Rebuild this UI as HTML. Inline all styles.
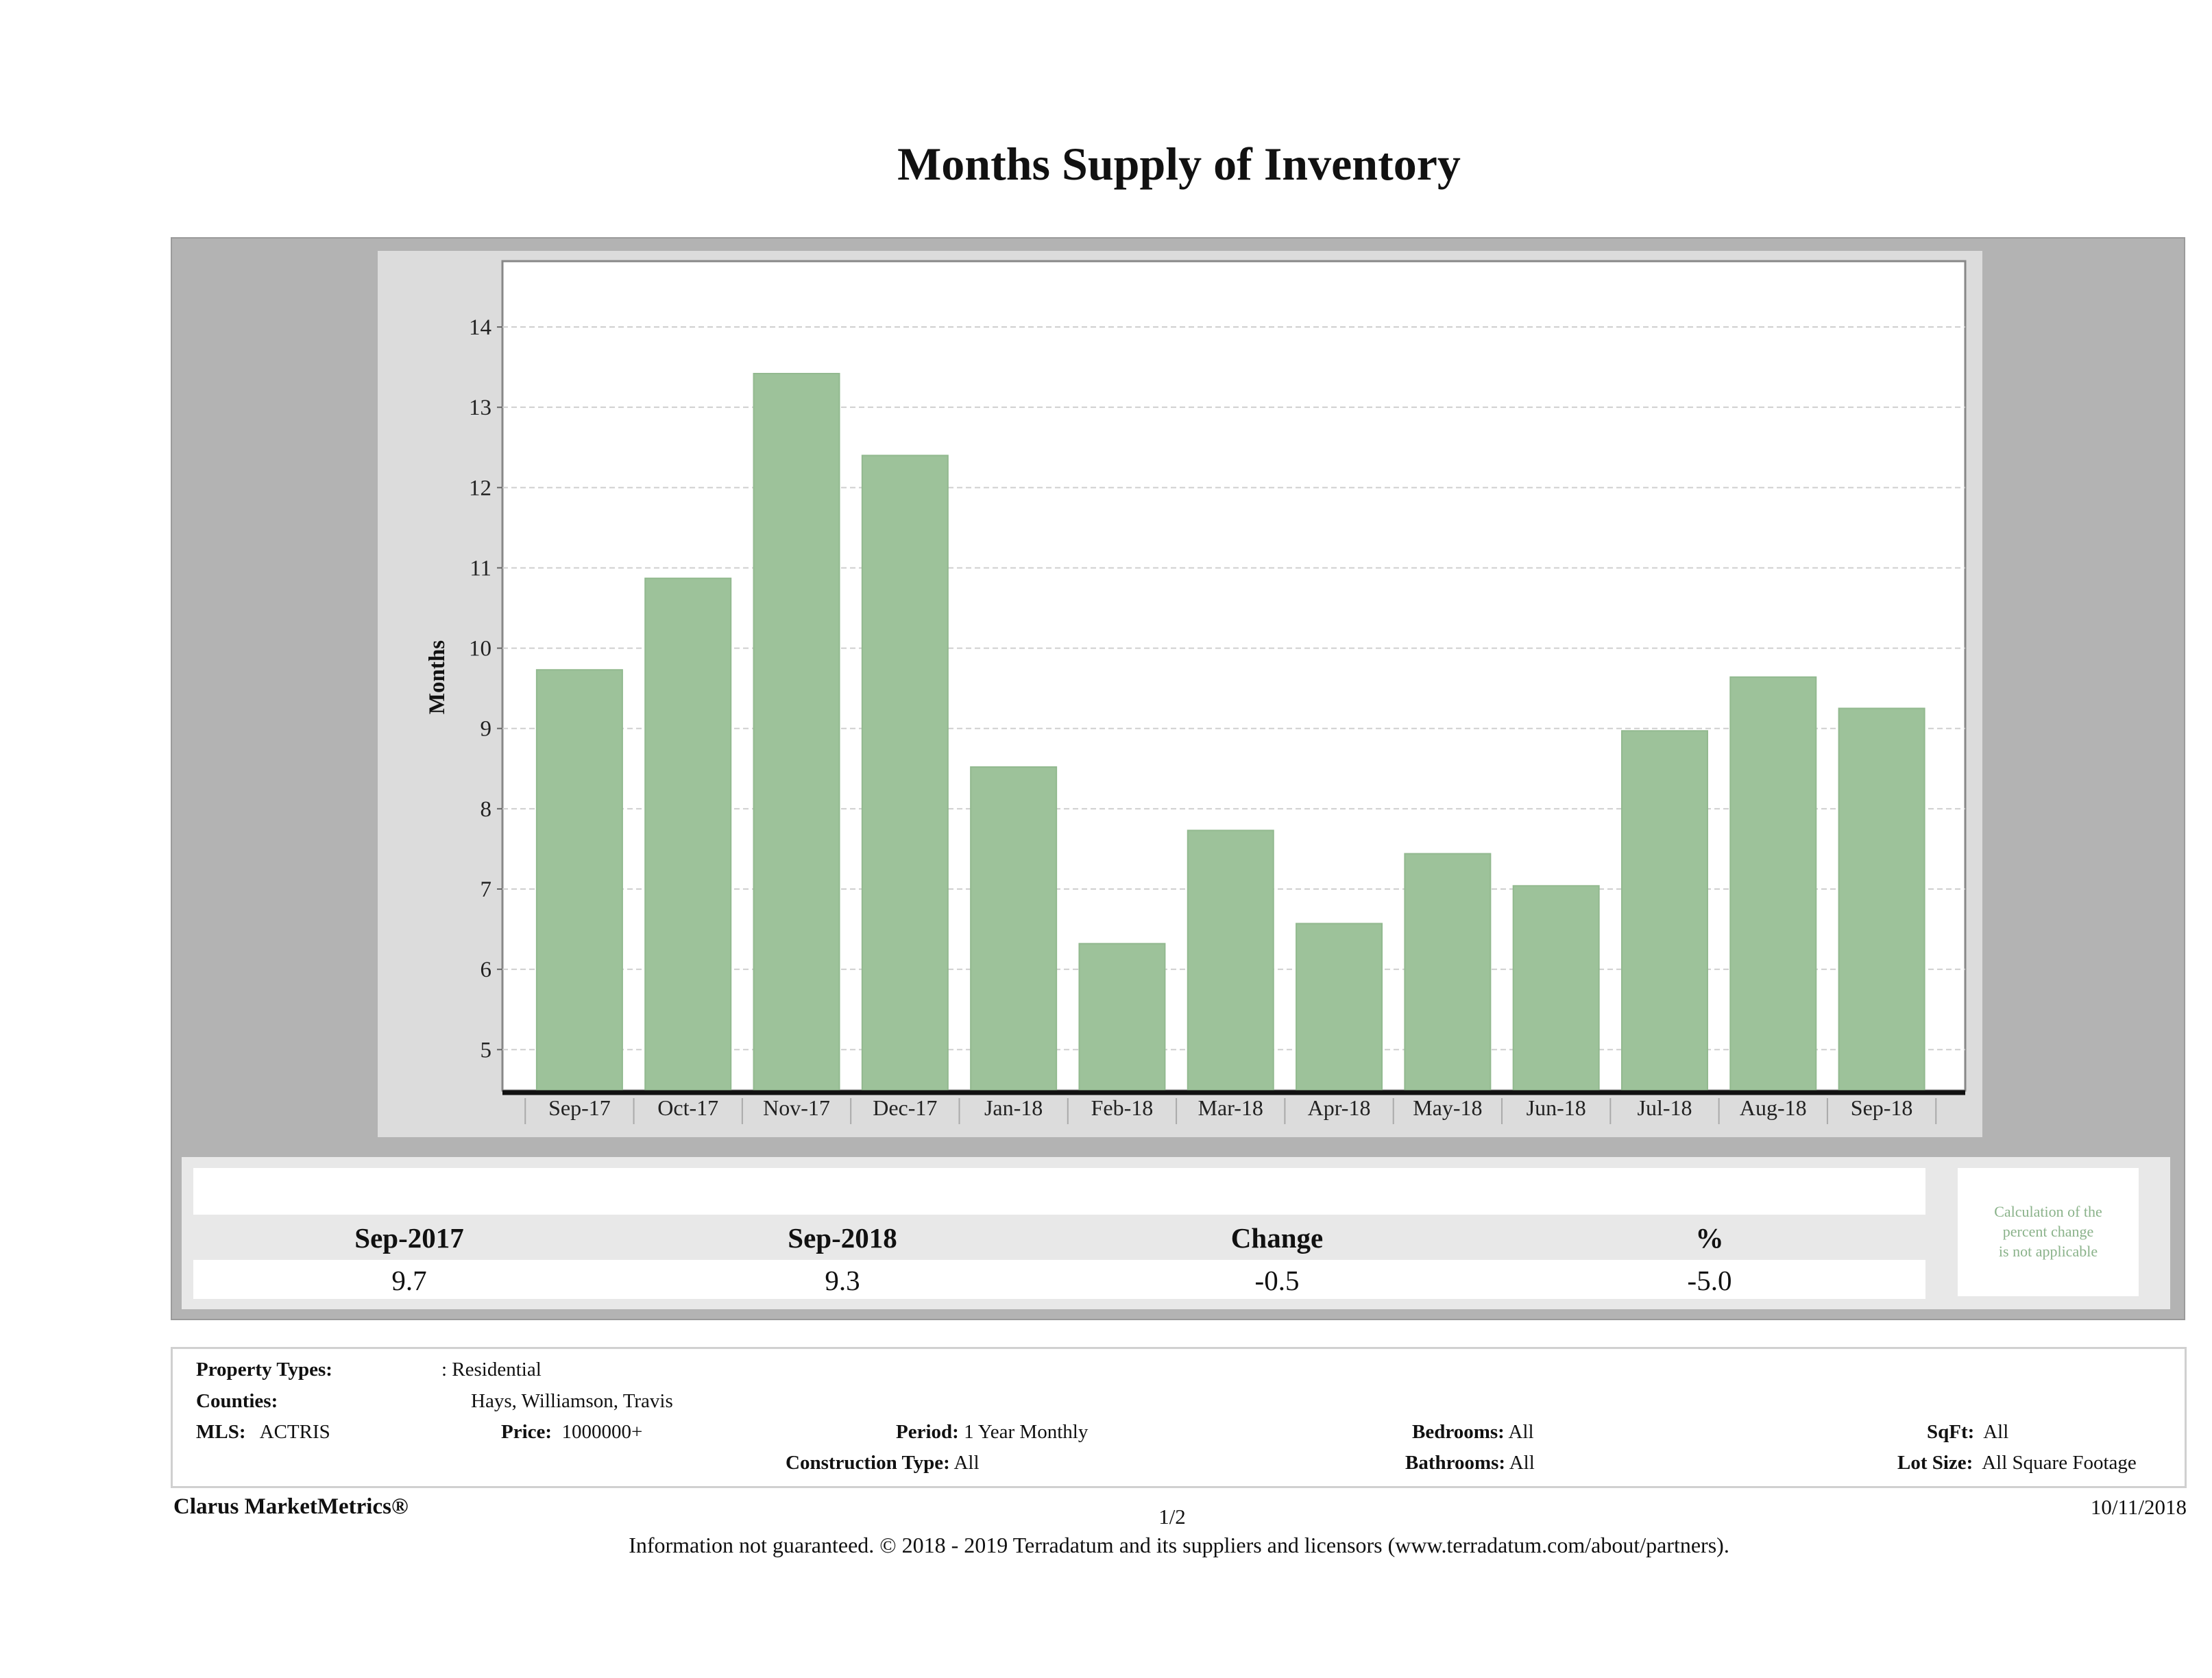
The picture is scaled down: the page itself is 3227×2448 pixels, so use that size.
<!DOCTYPE html>
<html><head><meta charset="utf-8">
<style>
html,body{margin:0;padding:0;background:#fff;}
body{width:3227px;height:2448px;position:relative;overflow:hidden;font-family:"Liberation Serif",serif;color:#111;}
.a{position:absolute;white-space:nowrap;}
.b{font-weight:bold;}
.info{font-size:29px;}
</style></head>
<body>
<div class="a b" style="left:0;width:3440px;top:200px;text-align:center;font-size:68px;">Months Supply of Inventory</div>

<div class="a" style="left:249px;top:346px;width:2935px;height:1576px;background:#b3b3b3;border:2px solid #9a9a9a;"></div>
<div class="a" style="left:551px;top:366px;width:2341px;height:1293px;background:#dcdcdc;"></div>

<svg class="a" id="chart" style="left:0;top:0;" width="3227" height="1700"></svg>

<div class="a" style="left:265px;top:1688px;width:2901px;height:222px;background:#e8e8e8;"></div>
<div class="a" style="left:282px;top:1704px;width:2527px;height:68px;background:#fff;"></div>
<div class="a" style="left:282px;top:1838px;width:2527px;height:57px;background:#fff;"></div>
<div class="a" style="left:2856px;top:1704px;width:264px;height:187px;background:#fff;"></div>
<div class="a" style="left:2856px;width:264px;top:1753px;text-align:center;font-size:22px;line-height:29px;color:#8ab28a;">Calculation of the<br>percent change<br>is not applicable</div>

<div class="a b" style="left:397px;width:400px;text-align:center;top:1782px;font-size:41px;">Sep-2017</div>
<div class="a b" style="left:1029px;width:400px;text-align:center;top:1782px;font-size:41px;">Sep-2018</div>
<div class="a b" style="left:1663px;width:400px;text-align:center;top:1782px;font-size:41px;">Change</div>
<div class="a b" style="left:2294px;width:400px;text-align:center;top:1782px;font-size:41px;">%</div>
<div class="a" style="left:397px;width:400px;text-align:center;top:1844px;font-size:41px;">9.7</div>
<div class="a" style="left:1029px;width:400px;text-align:center;top:1844px;font-size:41px;">9.3</div>
<div class="a" style="left:1663px;width:400px;text-align:center;top:1844px;font-size:41px;">-0.5</div>
<div class="a" style="left:2294px;width:400px;text-align:center;top:1844px;font-size:41px;">-5.0</div>

<div class="a" style="left:249px;top:1965px;width:2935px;height:200px;border:3px solid #d0d0d0;"></div>
<div class="a info b" style="left:286px;top:1982px;">Property Types:</div>
<div class="a info" style="left:644px;top:1982px;">: Residential</div>
<div class="a info b" style="left:286px;top:2028px;">Counties:</div>
<div class="a info" style="left:687px;top:2028px;">Hays, Williamson, Travis</div>
<div class="a info" style="left:286px;top:2073px;"><b>MLS:</b>&nbsp;&nbsp; ACTRIS</div>
<div class="a info" style="left:731px;top:2073px;"><b>Price:</b>&nbsp; 1000000+</div>
<div class="a info" style="left:1307px;top:2073px;"><b>Period:</b> 1 Year Monthly</div>
<div class="a info" style="left:2060px;top:2073px;"><b>Bedrooms:</b> All</div>
<div class="a info" style="left:2811px;top:2073px;"><b>SqFt:</b>&nbsp; All</div>
<div class="a info" style="left:1146px;top:2118px;"><b>Construction Type:</b> All</div>
<div class="a info" style="left:2050px;top:2118px;"><b>Bathrooms:</b> All</div>
<div class="a info" style="left:2768px;top:2118px;"><b>Lot Size:</b>&nbsp; All Square Footage</div>

<div class="a b" style="left:253px;top:2180px;font-size:33px;">Clarus MarketMetrics®</div>
<div class="a" style="left:1610px;width:200px;text-align:center;top:2195px;font-size:31px;">1/2</div>
<div class="a" style="right:37px;top:2181px;font-size:31px;">10/11/2018</div>
<div class="a" style="left:0;width:3440px;text-align:center;top:2236px;font-size:32px;">Information not guaranteed. © 2018 - 2019 Terradatum and its suppliers and licensors (www.terradatum.com/about/partners).</div>

<script>
const categories = ["Sep-17","Oct-17","Nov-17","Dec-17","Jan-18","Feb-18","Mar-18","Apr-18","May-18","Jun-18","Jul-18","Aug-18","Sep-18"];
const values = [9.73,10.87,13.42,12.4,8.52,6.32,7.73,6.57,7.44,7.04,8.97,9.64,9.25];
const yTicks = [5,6,7,8,9,10,11,12,13,14];
const yMin = 4.49, yMax = 14.82;

const NS = "http://www.w3.org/2000/svg";
const svg = document.getElementById("chart");
const L = 733, R = 2867, T = 381, B = 1591;
const y = v => B - (v - yMin) / (yMax - yMin) * (B - T);
const step = (R - L) / 13.48;
const x = i => L + step * 0.71 + i * step;
function mk(tag, attrs) { const e = document.createElementNS(NS, tag); for (const k in attrs) e.setAttribute(k, attrs[k]); svg.appendChild(e); return e; }

const plot = mk("rect", {x:L, y:T, width:R-L, height:B-T, fill:"#fff", stroke:"#888", "stroke-width":3});



yTicks.forEach(t => {
  const g = mk("line", {x1:L, x2:R, y1:y(t), y2:y(t), stroke:"#cfcfcf", "stroke-width":2, "stroke-dasharray":"8,5"});
  
  
  const tk = mk("line", {x1:L-8, x2:L, y1:y(t), y2:y(t), stroke:"#666", "stroke-width":2});
  
  
  const lb = mk("text", {x:L-16, y:y(t)+11, "text-anchor":"end", "font-size":33, "font-family":"Liberation Serif, serif", fill:"#222"});
  lb.textContent = t;
  
  
});

const bw = 125;
values.forEach((v, i) => {
  const r = mk("rect", {x:x(i)-bw/2, y:y(v), width:bw, height:B-y(v), fill:"#9dc29a", stroke:"#92b98f", "stroke-width":2});
  
  
});

categories.forEach((c, i) => {
  const lb = mk("text", {x:x(i), y:1627, "text-anchor":"middle", "font-size":32, "font-family":"Liberation Serif, serif", fill:"#222"});
  lb.textContent = c;
  
  
});
for (let i = 0; i <= categories.length; i++) {
  const sx = x(i) - step / 2;
  const s = mk("line", {x1:sx, x2:sx, y1:1602, y2:1640, stroke:"#aaa", "stroke-width":2});
  
  
}
const ax = mk("line", {x1:L, x2:R, y1:B+3, y2:B+3, stroke:"#111", "stroke-width":7});



const yt = mk("text", {x:0, y:0, "text-anchor":"middle", "font-size":33, "font-weight":"bold", "font-family":"Liberation Serif, serif", fill:"#111", transform:"translate(648,988) rotate(-90)"});
yt.textContent = "Months";


</script>
</body></html>
